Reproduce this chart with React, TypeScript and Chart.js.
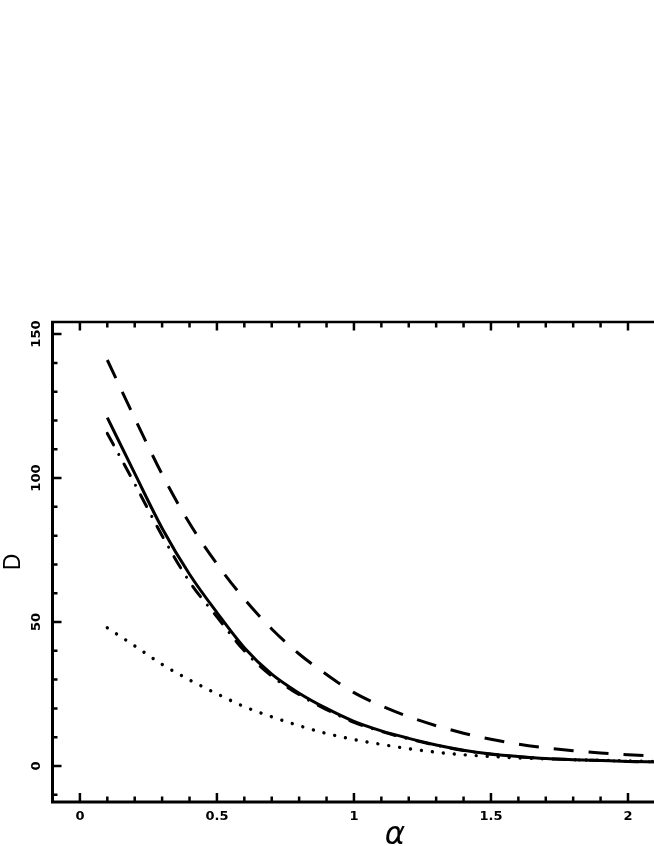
import React, { useEffect, useRef } from 'react';
import { Chart, registerables } from 'chart.js';

Chart.register(...registerables);

// α values (x axis)
const alphaValues = [0.1, 0.2, 0.3, 0.4, 0.5, 0.6, 0.7, 0.8, 0.9, 1.0, 1.1, 1.2, 1.3, 1.4, 1.5, 1.6, 1.7, 1.8, 1.9, 2.0, 2.1];

// D values for each curve
const solidD = [121, 101.6, 82.6, 66.6, 53.3, 41.1, 31.9, 25.3, 20.0, 15.5, 12.2, 9.6, 7.3, 5.5, 4.2, 3.3, 2.6, 2.2, 1.9, 1.6, 1.4];
const dashDotD = [115.5, 98.0, 80.0, 64.0, 51.8, 40.0, 31.2, 24.8, 19.6, 15.2, 12.0, 9.4, 7.2, 5.4, 4.1, 3.2, 2.6, 2.2, 1.9, 1.6, 1.4];
const dashedD = [141, 120.8, 101.3, 84.3, 70.2, 58.0, 47.6, 38.9, 31.8, 25.5, 20.9, 17.1, 14.0, 11.4, 9.3, 7.6, 6.3, 5.3, 4.5, 3.9, 3.4];
const dottedD = [48, 41.7, 35.3, 29.9, 25.1, 20.6, 17.1, 14.0, 11.3, 9.2, 7.5, 6.0, 4.8, 3.9, 3.3, 2.8, 2.5, 2.2, 2.0, 1.8, 1.6];

// axis tick labels
const xMajorLabels = [0, 0.5, 1, 1.5, 2];
const yMajorLabels = [0, 50, 100, 150];

const toPoints = (ys: number[]) => alphaValues.map((x, i) => ({ x, y: ys[i] }));

const isMajorX = (v: number) => xMajorLabels.some((m) => Math.abs(m - v) < 1e-6);
const isMajorY = (v: number) => yMajorLabels.some((m) => Math.abs(m - v) < 1e-6);

const frameTicks = {
  id: 'frameTicks',
  afterDraw(chart: any) {
    const { ctx, chartArea: a, scales } = chart;
    const xs = scales.x;
    const ys = scales.y;
    ctx.save();
    ctx.strokeStyle = '#000';
    ctx.lineCap = 'butt';

    // frame (left, bottom, top)
    ctx.lineWidth = 3;
    ctx.beginPath();
    ctx.moveTo(a.left, a.top - 1);
    ctx.lineTo(a.left, a.bottom + 1.5);
    ctx.moveTo(a.left - 1.5, a.bottom);
    ctx.lineTo(a.right, a.bottom);
    ctx.stroke();
    ctx.lineWidth = 2.5;
    ctx.beginPath();
    ctx.moveTo(a.left - 1.5, a.top);
    ctx.lineTo(a.right, a.top);
    ctx.stroke();

    ctx.lineWidth = 2.5;
    ctx.beginPath();
    // left ticks (inward)
    ys.ticks.forEach((t: any) => {
      const py = ys.getPixelForValue(t.value);
      if (py < a.top + 2 || py > a.bottom - 2) return;
      const len = isMajorY(t.value) ? 9 : 5;
      ctx.moveTo(a.left, py);
      ctx.lineTo(a.left + len, py);
    });
    // bottom and top ticks (inward)
    xs.ticks.forEach((t: any) => {
      const px = xs.getPixelForValue(t.value);
      if (px < a.left + 2 || px > a.right - 2) return;
      const major = isMajorX(t.value);
      const lb = major ? 9 : 5.5;
      const lt = major ? 8.5 : 5.5;
      ctx.moveTo(px, a.bottom);
      ctx.lineTo(px, a.bottom - lb);
      ctx.moveTo(px, a.top);
      ctx.lineTo(px, a.top + lt);
    });
    ctx.stroke();
    ctx.restore();
  },
};

export default function App() {
  const ref = useRef<HTMLCanvasElement | null>(null);

  useEffect(() => {
    if (!ref.current) return;
    const chart = new Chart(ref.current, {
      type: 'line',
      data: {
        datasets: [
          {
            label: 'solid',
            data: toPoints(solidD),
            borderColor: '#000',
            borderWidth: 3,
            pointRadius: 0,
            cubicInterpolationMode: 'monotone',
            fill: false,
          },
          {
            label: 'dashed',
            data: toPoints(dashedD),
            borderColor: '#000',
            borderWidth: 3,
            borderDash: [20, 15],
            pointRadius: 0,
            cubicInterpolationMode: 'monotone',
            fill: false,
          },
          {
            label: 'dashdot',
            data: toPoints(dashDotD),
            borderColor: '#000',
            borderWidth: 3,
            borderDash: [13, 11, 0.01, 11],
            borderCapStyle: 'round',
            pointRadius: 0,
            cubicInterpolationMode: 'monotone',
            fill: false,
          },
          {
            label: 'dotted',
            data: toPoints(dottedD),
            borderColor: '#000',
            borderWidth: 3.4,
            borderDash: [0.01, 11],
            borderCapStyle: 'round',
            pointRadius: 0,
            cubicInterpolationMode: 'monotone',
            fill: false,
          },
        ],
      },
      options: {
        animation: false,
        responsive: true,
        maintainAspectRatio: false,
        devicePixelRatio: 1,
        layout: { padding: { top: 322, left: 0, right: 22.4, bottom: 0 } },
        plugins: {
          legend: { display: false },
          tooltip: { enabled: false },
        },
        scales: {
          x: {
            type: 'linear',
            min: -0.1,
            max: 2.4,
            grid: { display: false, drawTicks: false },
            border: { display: false },
            afterFit: (s: any) => {
              s.height = 58;
            },
            ticks: {
              stepSize: 0.1,
              autoSkip: false,
              includeBounds: false,
              maxRotation: 0,
              minRotation: 0,
              padding: 7,
              color: '#000',
              font: { family: '"DejaVu Sans"', size: 13, weight: 'bold' },
              callback: (v: any) => {
                const n = Number(v);
                return isMajorX(n) ? String(Math.round(n * 10) / 10) : '';
              },
            },
            title: {
              display: true,
              text: 'α',
              color: '#000',
              font: { family: '"DejaVu Sans"', size: 31, style: 'italic', lineHeight: 1 },
              padding: { top: 0, bottom: 9 },
            },
          },
          y: {
            type: 'linear',
            min: -12.5,
            max: 154.2,
            grid: { display: false, drawTicks: false },
            border: { display: false },
            afterFit: (s: any) => {
              s.width = 52.5;
            },
            ticks: {
              stepSize: 10,
              autoSkip: false,
              includeBounds: false,
              minRotation: 90,
              maxRotation: 90,
              crossAlign: 'center',
              padding: 2.5,
              color: '#000',
              font: { family: '"DejaVu Sans"', size: 13, weight: 'bold' },
              callback: (v: any) => {
                const n = Number(v);
                return isMajorY(n) ? String(Math.round(n)) : '';
              },
            },
            title: {
              display: true,
              text: 'D',
              color: '#000',
              font: { family: '"Liberation Sans"', size: 23, lineHeight: 1 },
              padding: { top: 2, bottom: 0 },
            },
          },
        },
      },
      plugins: [frameTicks],
    } as any);
    return () => chart.destroy();
  }, []);

  return (
    <div
      style={{
        position: 'fixed',
        left: 0,
        top: 0,
        width: 654,
        height: 846,
        overflow: 'hidden',
        background: '#fff',
      }}
    >
      <div style={{ position: 'relative', width: 760, height: 860 }}>
        <canvas ref={ref} />
      </div>
    </div>
  );
}
